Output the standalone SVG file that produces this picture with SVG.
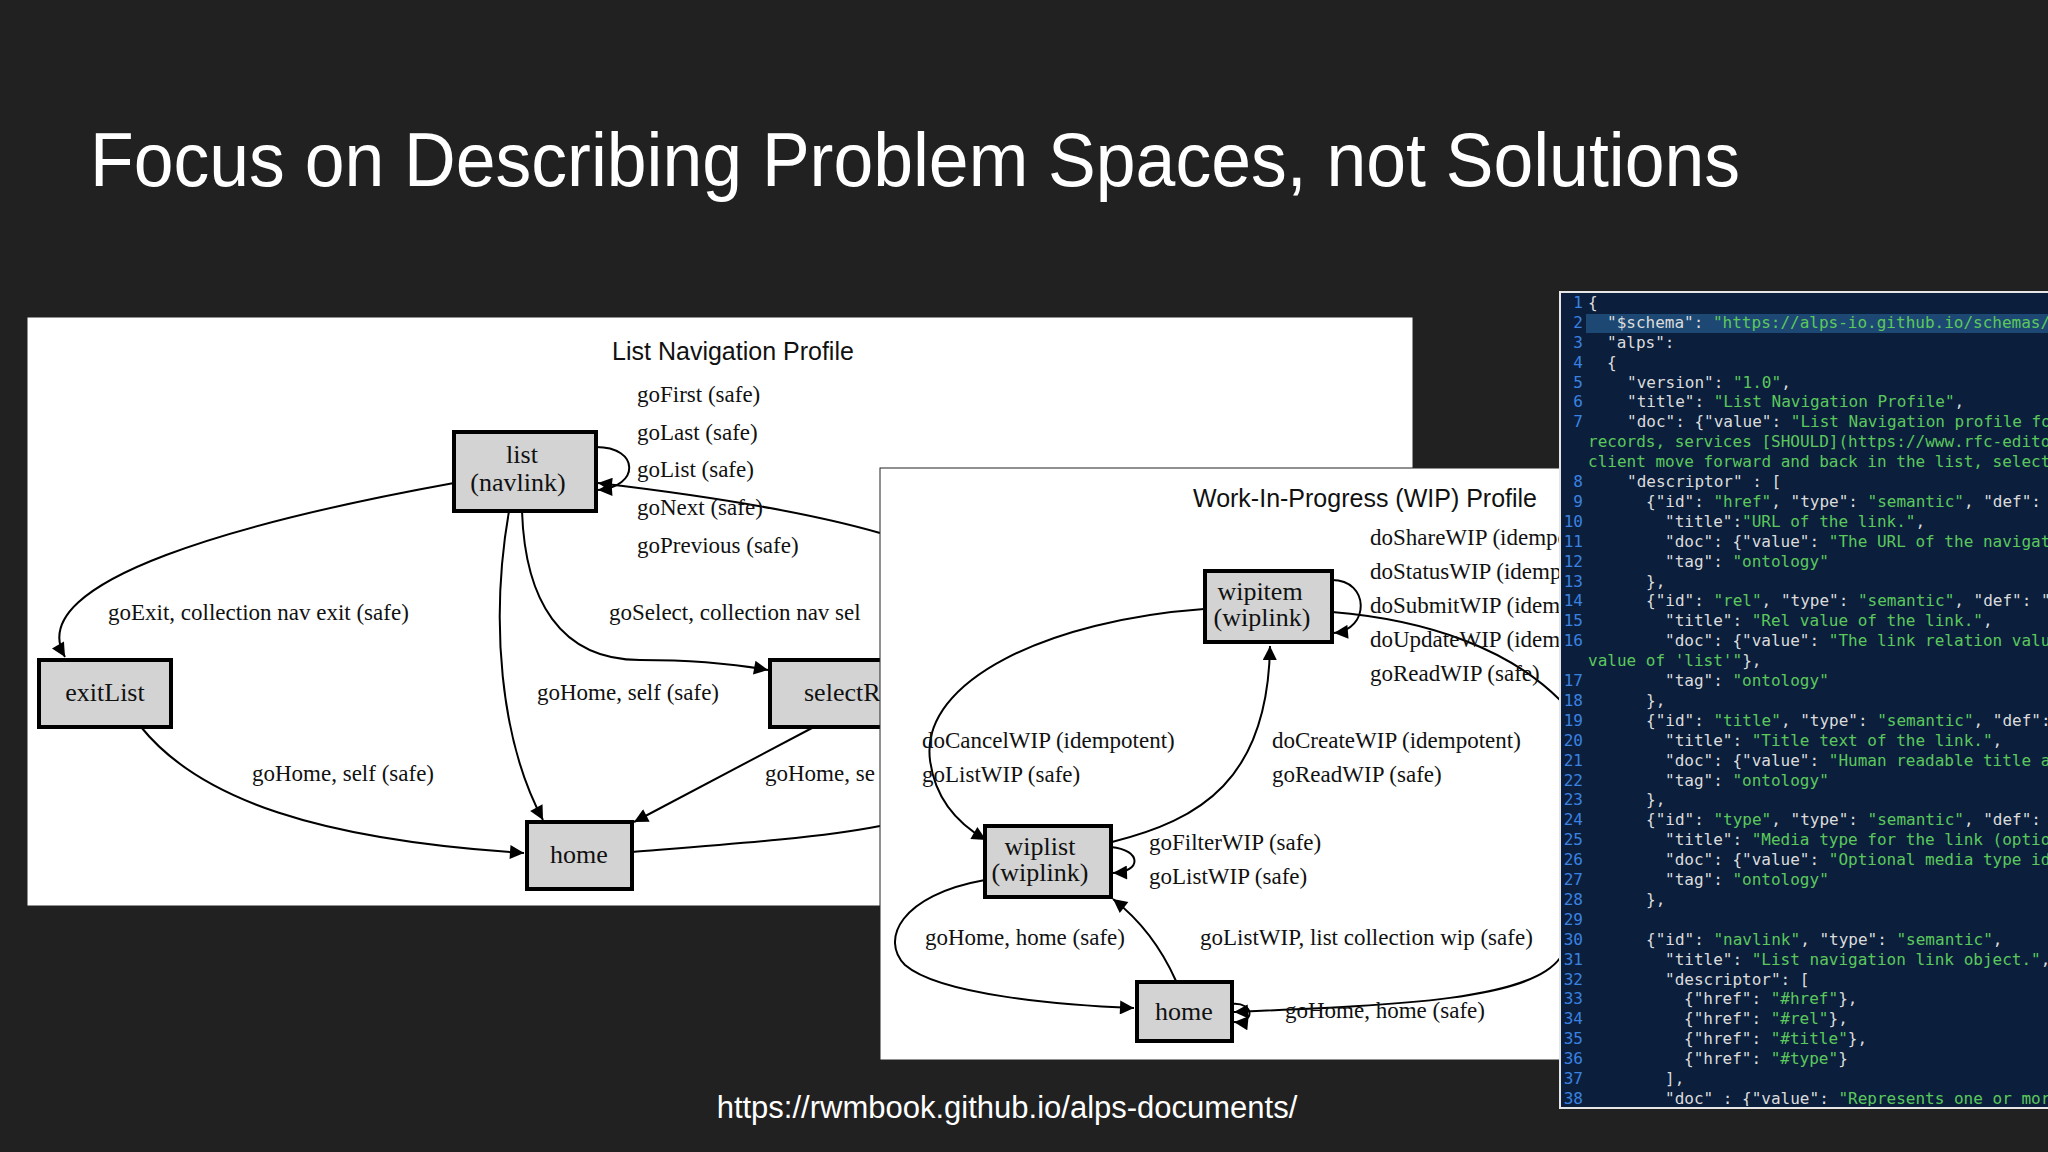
<svg xmlns="http://www.w3.org/2000/svg" width="2048" height="1152" viewBox="0 0 2048 1152">
<defs>
<marker id="ah2" viewBox="0 0 10 10" refX="10" refY="5" markerWidth="16" markerHeight="14" markerUnits="userSpaceOnUse" orient="auto"><path d="M0,0 L10,5 L0,10 z" fill="#000"/></marker>
<clipPath id="cc"><rect x="1562" y="294" width="486" height="812"/></clipPath>
</defs>
<style>
.bg{fill:#212121}
.panel{fill:#fff;stroke:#222;stroke-width:1}
.node{fill:#d3d3d3;stroke:#000;stroke-width:4}
.nt{font-family:"Liberation Serif",serif;font-size:26px;fill:#111;text-anchor:middle}
.lb{font-family:"Liberation Serif",serif;font-size:23px;fill:#111}
.gt{font-family:"Liberation Sans",sans-serif;font-size:25px;fill:#111;text-anchor:middle}
.e{fill:none;stroke:#000;stroke-width:2;marker-end:url(#ah2)}
.en{fill:none;stroke:#000;stroke-width:2}
.code{font-family:"DejaVu Sans Mono",monospace;font-size:16px;fill:#dcdcdc}
.s{fill:#5cc85c}
.ln{font-family:"DejaVu Sans Mono",monospace;font-size:16px;fill:#3b82e0;text-anchor:end}
</style>
<rect class="bg" width="2048" height="1152"/>
<text x="90" y="186" font-family="Liberation Sans, sans-serif" font-size="76" fill="#fff" textLength="1650" lengthAdjust="spacingAndGlyphs">Focus on Describing Problem Spaces, not Solutions</text>

<g id="list-profile">
<rect class="panel" x="27" y="317" width="1386" height="589"/>
<text class="gt" x="733" y="360">List Navigation Profile</text>
</g>
<g id="connectors-list">
<path class="e" d="M454,483 C250,520 20,580 65,657"/>
<path class="e" d="M596,447 C640,447 640,487 598,490"/>
<path class="e" d="M880,533 C800,510 700,495 598,483"/>
<path class="e" d="M509,511 C490,620 500,740 543,820"/>
<path class="e" d="M522,511 C525,600 560,660 640,660 C700,660 740,665 768,670"/>
<path class="e" d="M141,727 C200,800 320,840 524,853"/>
<path class="e" d="M812,728 L634,822"/>
<path class="en" d="M632,852 C720,845 820,838 880,826"/>
</g>
<g id="list-labels">
<text class="lb" x="637" y="402">goFirst (safe)</text>
<text class="lb" x="637" y="440">goLast (safe)</text>
<text class="lb" x="637" y="477">goList (safe)</text>
<text class="lb" x="637" y="515">goNext (safe)</text>
<text class="lb" x="637" y="553">goPrevious (safe)</text>
<text class="lb" x="108" y="620">goExit, collection nav exit (safe)</text>
<text class="lb" x="609" y="620">goSelect, collection nav sel</text>
<text class="lb" x="537" y="700">goHome, self (safe)</text>
<text class="lb" x="252" y="781">goHome, self (safe)</text>
<text class="lb" x="765" y="781">goHome, se</text>
</g>
<g id="node-list"><rect class="node" x="454" y="432" width="142" height="79"/><text class="nt" x="522" y="463">list</text><text class="nt" x="518" y="491">(navlink)</text></g>
<g id="node-exitList"><rect class="node" x="39" y="660" width="132" height="67"/><text class="nt" x="105" y="701">exitList</text></g>
<g id="node-selectR"><rect class="node" x="770" y="660" width="130" height="67"/><text class="nt" x="804" y="701" style="text-anchor:start">selectR</text></g>
<g id="node-home1"><rect class="node" x="527" y="822" width="105" height="67"/><text class="nt" x="579" y="863">home</text></g>

<g id="wip-profile">
<rect class="panel" x="880" y="468" width="681" height="592"/>
<text class="gt" x="1365" y="507">Work-In-Progress (WIP) Profile</text>
</g>
<g id="connectors-wip">
<path class="e" d="M1204,609 C1050,620 920,680 930,760 C935,800 960,825 986,840"/>
<path class="e" d="M1112,842 C1200,820 1268,780 1270,646"/>
<path class="e" d="M1332,580 C1370,580 1370,630 1334,633"/>
<path class="en" d="M1332,612 C1430,620 1510,650 1560,700"/>
<path class="e" d="M1111,847 C1142,850 1142,872 1113,873"/>
<path class="e" d="M985,880 C900,895 880,940 905,965 C940,995 1060,1005 1134,1008"/>
<path class="e" d="M1176,981 C1160,945 1140,920 1113,899"/>
<path class="e" d="M1232,1004 C1255,1002 1255,1024 1234,1022"/>
<path class="e" d="M1560,958 C1530,1000 1400,1005 1234,1012"/>
</g>
<g id="wip-labels">
<text class="lb" x="1370" y="545">doShareWIP (idempotent)</text>
<text class="lb" x="1370" y="579">doStatusWIP (idempotent)</text>
<text class="lb" x="1370" y="613">doSubmitWIP (idempotent)</text>
<text class="lb" x="1370" y="647">doUpdateWIP (idempotent)</text>
<text class="lb" x="1370" y="681">goReadWIP (safe)</text>
<text class="lb" x="922" y="748">doCancelWIP (idempotent)</text>
<text class="lb" x="922" y="782">goListWIP (safe)</text>
<text class="lb" x="1272" y="748">doCreateWIP (idempotent)</text>
<text class="lb" x="1272" y="782">goReadWIP (safe)</text>
<text class="lb" x="1149" y="850">goFilterWIP (safe)</text>
<text class="lb" x="1149" y="884">goListWIP (safe)</text>
<text class="lb" x="925" y="945">goHome, home (safe)</text>
<text class="lb" x="1200" y="945">goListWIP, list collection wip (safe)</text>
<text class="lb" x="1285" y="1018">goHome, home (safe)</text>
</g>
<g id="node-wipitem"><rect class="node" x="1205" y="571" width="127" height="71"/><text class="nt" x="1260" y="600">wipitem</text><text class="nt" x="1262" y="626">(wiplink)</text></g>
<g id="node-wiplist"><rect class="node" x="985" y="826" width="126" height="71"/><text class="nt" x="1040" y="855">wiplist</text><text class="nt" x="1040" y="881">(wiplink)</text></g>
<g id="node-home2"><rect class="node" x="1137" y="982" width="95" height="59"/><text class="nt" x="1184" y="1020">home</text></g>

<g id="code-panel">
<rect x="1560" y="292" width="490" height="816" fill="#0b1f3d" stroke="#e6e6e6" stroke-width="2"/>
<rect x="1586" y="314" width="462" height="19" fill="#1d4873"/>
<g clip-path="url(#cc)">
<g class="ln">
<text x="1583" y="308">1</text><text x="1583" y="328">2</text><text x="1583" y="348">3</text><text x="1583" y="368">4</text><text x="1583" y="388">5</text><text x="1583" y="407">6</text><text x="1583" y="427">7</text><text x="1583" y="487">8</text><text x="1583" y="507">9</text><text x="1583" y="527">10</text><text x="1583" y="547">11</text><text x="1583" y="567">12</text><text x="1583" y="587">13</text><text x="1583" y="606">14</text><text x="1583" y="626">15</text><text x="1583" y="646">16</text><text x="1583" y="686">17</text><text x="1583" y="706">18</text><text x="1583" y="726">19</text><text x="1583" y="746">20</text><text x="1583" y="766">21</text><text x="1583" y="786">22</text><text x="1583" y="805">23</text><text x="1583" y="825">24</text><text x="1583" y="845">25</text><text x="1583" y="865">26</text><text x="1583" y="885">27</text><text x="1583" y="905">28</text><text x="1583" y="925">29</text><text x="1583" y="945">30</text><text x="1583" y="965">31</text><text x="1583" y="985">32</text><text x="1583" y="1004">33</text><text x="1583" y="1024">34</text><text x="1583" y="1044">35</text><text x="1583" y="1064">36</text><text x="1583" y="1084">37</text><text x="1583" y="1104">38</text>
</g>
<g class="code">
<text x="1588" y="308">{</text>
<text x="1607" y="328">"$schema": <tspan class="s">"https://alps-io.github.io/schemas/alps.json"</tspan>,</text>
<text x="1607" y="348">"alps":</text>
<text x="1607" y="368">{</text>
<text x="1627" y="388">"version": <tspan class="s">"1.0"</tspan>,</text>
<text x="1627" y="407">"title": <tspan class="s">"List Navigation Profile"</tspan>,</text>
<text x="1627" y="427">"doc": {"value": <tspan class="s">"List Navigation profile for</tspan></text>
<text x="1588" y="447" class="s">records, services [SHOULD](https://www.rfc-editor</text>
<text x="1588" y="467" class="s">client move forward and back in the list, select</text>
<text x="1627" y="487">"descriptor" : [</text>
<text x="1646" y="507">{"id": <tspan class="s">"href"</tspan>, "type": <tspan class="s">"semantic"</tspan>, "def":</text>
<text x="1665" y="527">"title":<tspan class="s">"URL of the link."</tspan>,</text>
<text x="1665" y="547">"doc": {"value": <tspan class="s">"The URL of the navigation</tspan></text>
<text x="1665" y="567">"tag": <tspan class="s">"ontology"</tspan></text>
<text x="1646" y="587">},</text>
<text x="1646" y="606">{"id": <tspan class="s">"rel"</tspan>, "type": <tspan class="s">"semantic"</tspan>, "def": "</text>
<text x="1665" y="626">"title": <tspan class="s">"Rel value of the link."</tspan>,</text>
<text x="1665" y="646">"doc": {"value": <tspan class="s">"The link relation value</tspan></text>
<text x="1588" y="666"><tspan class="s">value of 'list'"</tspan>},</text>
<text x="1665" y="686">"tag": <tspan class="s">"ontology"</tspan></text>
<text x="1646" y="706">},</text>
<text x="1646" y="726">{"id": <tspan class="s">"title"</tspan>, "type": <tspan class="s">"semantic"</tspan>, "def":</text>
<text x="1665" y="746">"title": <tspan class="s">"Title text of the link."</tspan>,</text>
<text x="1665" y="766">"doc": {"value": <tspan class="s">"Human readable title and</tspan></text>
<text x="1665" y="786">"tag": <tspan class="s">"ontology"</tspan></text>
<text x="1646" y="805">},</text>
<text x="1646" y="825">{"id": <tspan class="s">"type"</tspan>, "type": <tspan class="s">"semantic"</tspan>, "def":</text>
<text x="1665" y="845">"title": <tspan class="s">"Media type for the link (optional)</tspan></text>
<text x="1665" y="865">"doc": {"value": <tspan class="s">"Optional media type id</tspan></text>
<text x="1665" y="885">"tag": <tspan class="s">"ontology"</tspan></text>
<text x="1646" y="905">},</text>
<text x="1646" y="945">{"id": <tspan class="s">"navlink"</tspan>, "type": <tspan class="s">"semantic"</tspan>,</text>
<text x="1665" y="965">"title": <tspan class="s">"List navigation link object."</tspan>,</text>
<text x="1665" y="985">"descriptor": [</text>
<text x="1684" y="1004">{"href": <tspan class="s">"#href"</tspan>},</text>
<text x="1684" y="1024">{"href": <tspan class="s">"#rel"</tspan>},</text>
<text x="1684" y="1044">{"href": <tspan class="s">"#title"</tspan>},</text>
<text x="1684" y="1064">{"href": <tspan class="s">"#type"</tspan>}</text>
<text x="1665" y="1084">],</text>
<text x="1665" y="1104">"doc" : {"value": <tspan class="s">"Represents one or more</tspan></text>
</g>
</g>
</g>
<text x="1007" y="1118" font-family="Liberation Sans, sans-serif" font-size="31" fill="#fff" text-anchor="middle">https://rwmbook.github.io/alps-documents/</text>
</svg>
